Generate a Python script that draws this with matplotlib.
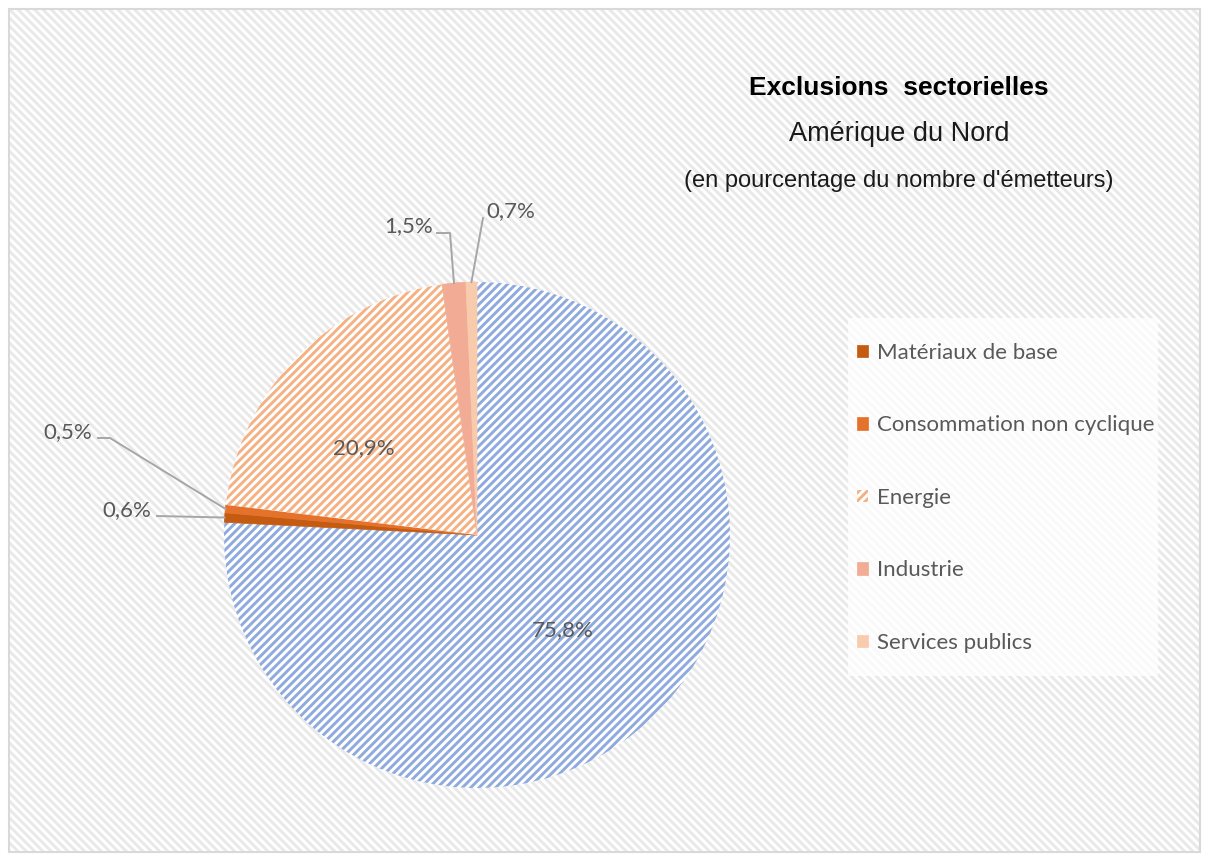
import numpy as np
import matplotlib
matplotlib.use("Agg")
import matplotlib.pyplot as plt
from matplotlib.patches import Rectangle

# data
sectors = ["Autres", "Matériaux de base", "Consommation non cyclique",
           "Energie", "Industrie", "Services publics"]
values = [75.8, 0.6, 0.5, 20.9, 1.5, 0.7]
labels_txt = ["75,8%", "0,6%", "0,5%", "20,9%", "1,5%", "0,7%"]
colors = ["#8FAADC", "#C55A11", "#E5722A", "#F4B183", "#F2AC95", "#F8CBAD"]
hatched = [True, False, False, True, False, False]

plt.rcParams["hatch.linewidth"] = 2.1

W, H = 1209, 861
CX, CY, R = 477, 535, 253
grey = "#595959"
lab_font = "Lato"
title_font = "Liberation Sans"


def main():
    fig = plt.figure(figsize=(W / 100, H / 100), dpi=100)
    fig.patch.set_facecolor("white")
    ax = fig.add_axes([0, 0, 1, 1])

    # background with diagonal pattern
    bg = Rectangle((9, 9), W - 18, H - 18, facecolor="white",
                   edgecolor="#E9E9E9", hatch="\\\\\\\\", linewidth=0, zorder=0)
    ax.add_patch(bg)
    ax.add_patch(Rectangle((9, 9), W - 18, H - 18, facecolor="none",
                           edgecolor="#D9D9D9", linewidth=1.5, zorder=0.5))

    wedges, _ = ax.pie(values, center=(CX, CY), radius=R, startangle=-90,
                       counterclock=True, frame=True)
    for w, c, h in zip(wedges, colors, hatched):
        if h:
            w.set_facecolor("white")
            w.set_edgecolor(c)
            w.set_hatch("////")
            w.set_linewidth(0)
        else:
            w.set_facecolor(c)
            w.set_edgecolor(c)
            w.set_linewidth(0.5)
        w.set_zorder(2)

    ax.set_xlim(0, W)
    ax.set_ylim(H, 0)
    ax.axis("off")

    def edge_pt(i, rr=1.0):
        w = wedges[i]
        th = np.deg2rad((w.theta1 + w.theta2) / 2)
        return CX + R * rr * np.cos(th), CY + R * rr * np.sin(th)

    # inside labels
    for i, pos in [(0, (563, 630)), (3, (364, 448))]:
        ax.text(pos[0], pos[1], labels_txt[i], ha="center", va="center",
                fontsize=16, color=grey, family=lab_font, zorder=5)

    # outside labels with leader lines
    lc = "#A6A6A6"
    outside = {
        1: dict(txt=(127, 510), line=[(157, 516)]),
        2: dict(txt=(68, 432), line=[(98, 438), (110, 438)]),
        4: dict(txt=(409, 226), line=[(437, 233), (450, 233)]),
        5: dict(txt=(511, 211), line=[(483, 218)]),
    }
    for i, d in outside.items():
        ax.text(d["txt"][0], d["txt"][1], labels_txt[i], ha="center",
                va="center", fontsize=16, color=grey, family=lab_font, zorder=5)
        pts = d["line"] + [edge_pt(i, 1.0)]
        xs = [p[0] for p in pts]
        ys = [p[1] for p in pts]
        ax.plot(xs, ys, color=lc, lw=1.4, zorder=3)

    # titles
    ax.text(899, 88, "Exclusions  sectorielles", ha="center", va="center",
            fontsize=19, fontweight="bold", color="black", family=title_font)
    ax.text(899, 134, "Amérique du Nord", ha="center", va="center",
            fontsize=19.5, color="#1a1a1a", family=title_font)
    ax.text(899, 181, "(en pourcentage du nombre d'émetteurs)", ha="center",
            va="center", fontsize=17, color="#1a1a1a", family=title_font)

    # legend
    ax.add_patch(Rectangle((848, 318), 310, 358, facecolor="white",
                           edgecolor="none", alpha=0.75, zorder=4))
    leg = ax.legend(wedges[1:], sectors[1:], loc="upper left",
                    bbox_to_anchor=(857, 343), bbox_transform=ax.transData,
                    frameon=False, labelspacing=2.36,
                    handlelength=0.5, handleheight=0.5, handletextpad=0.4,
                    borderpad=0, borderaxespad=0, labelcolor=grey,
                    prop={"family": lab_font, "size": 16})
    leg.set_zorder(6)

    fig.savefig("out.png", dpi=100, facecolor="white")


if __name__ == "__main__":
    main()
